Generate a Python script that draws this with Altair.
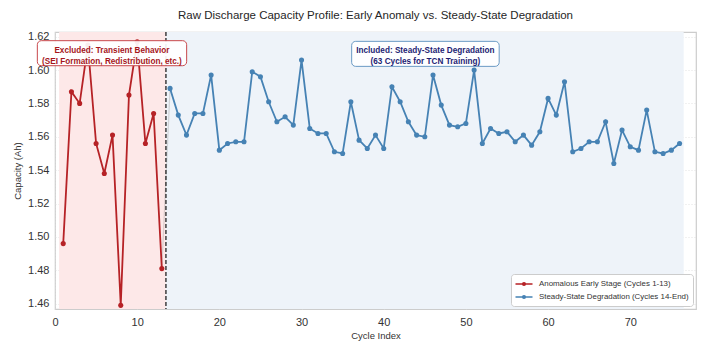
import altair as alt
import pandas as pd

# ---- data ----
early_cycles = list(range(1, 14))
early_capacity = [1.496, 1.587, 1.580, 1.615, 1.556, 1.538, 1.561, 1.459, 1.585, 1.617,
                  1.556, 1.574, 1.481]

steady_cycles = list(range(14, 77))
steady_capacity = [1.589, 1.573, 1.561, 1.574, 1.574, 1.597, 1.552, 1.556, 1.557, 1.557,
                   1.599, 1.596, 1.581, 1.569, 1.572, 1.567, 1.606, 1.565, 1.562, 1.562,
                   1.551, 1.550, 1.581, 1.558, 1.553, 1.561, 1.553, 1.590, 1.581, 1.569,
                   1.561, 1.560, 1.597, 1.579, 1.567, 1.566, 1.568, 1.600, 1.556, 1.565,
                   1.562, 1.563, 1.557, 1.561, 1.555, 1.563, 1.583, 1.573, 1.593, 1.551,
                   1.553, 1.557, 1.557, 1.569, 1.544, 1.564, 1.554, 1.552, 1.576, 1.551,
                   1.550, 1.552, 1.556]

series_names = ["Anomalous Early Stage (Cycles 1-13)", "Steady-State Degradation (Cycles 14-End)"]
series_colors = ["#b62226", "#4682b4"]

span_start = [0.5, 13.5]
span_end = [13.5, 76.5]
span_fill = ["#fde8e8", "#eef3f9"]
split_at = [13.5]

x_ticks = [0, 10, 20, 30, 40, 50, 60, 70]
y_ticks = [1.46, 1.48, 1.50, 1.52, 1.54, 1.56, 1.58, 1.60, 1.62]
x_domain = [0, 78]
y_domain = [1.4568, 1.6228]

ann_text = ["Excluded: Transient Behavior\n(SEI Formation, Redistribution, etc.)",
            "Included: Steady-State Degradation\n(63 Cycles for TCN Training)"]
ann_x = [6.93, 45.07]
ann_y = [1.6113, 1.6112]
ann_x0 = [-2.15, 36.1]
ann_x1 = [16.02, 54.05]
ann_y0 = [1.6026, 1.6022]
ann_y1 = [1.6176, 1.6172]
ann_text_color = ["#a5161c", "#1d1d73"]
ann_border = ["#c8484c", "#6a9ac4"]

# ---- tables ----
df = pd.DataFrame({
    "cycle": early_cycles + steady_cycles,
    "capacity": early_capacity + steady_capacity,
    "series": [series_names[0]] * len(early_cycles) + [series_names[1]] * len(steady_cycles),
})
connector = pd.DataFrame({"cycle": [early_cycles[-1], steady_cycles[0]],
                          "capacity": [early_capacity[-1], steady_capacity[0]]})
spans = pd.DataFrame({"x0": span_start, "x1": span_end, "fill": span_fill})
split = pd.DataFrame({"x": split_at})
ann = pd.DataFrame({"text": ann_text, "x": ann_x, "y": ann_y, "x0": ann_x0, "x1": ann_x1,
                    "y0": ann_y0, "y1": ann_y1, "tc": ann_text_color, "bc": ann_border})

xs = alt.Scale(domain=x_domain, nice=False, zero=False)
ys = alt.Scale(domain=y_domain, nice=False, zero=False)

x_axis = alt.Axis(values=x_ticks, title="Cycle Index", labelPadding=7, titlePadding=3,
                  format="d", labelFlush=False, labelOverlap=False)
y_axis = alt.Axis(values=y_ticks, title="Capacity (Ah)", labelPadding=6, titlePadding=5,
                  format=".2f", labelOverlap=False, labelFlush=False)

span_layer = alt.Chart(spans).mark_rect().encode(
    x=alt.X("x0:Q", scale=xs, axis=x_axis),
    x2="x1:Q",
    fill=alt.Fill("fill:N", scale=None),
)

line_sym = "M-1.1,0L2.3,0M0.34,0A0.26,0.26,0,1,0,0.86,0A0.26,0.26,0,1,0,0.34,0"
color = alt.Color("series:N", scale=alt.Scale(domain=series_names, range=series_colors),
                  legend=alt.Legend(title=None, orient="bottom-right", offset=3,
                                    symbolType=line_sym, symbolSize=100, symbolStrokeWidth=1.6,
                                    labelFontSize=7.9, labelColor="#333333", labelOffset=12,
                                    fillColor="white", strokeColor="#cccccc", cornerRadius=3,
                                    padding=4, rowPadding=2, labelLimit=300))

connector_layer = alt.Chart(connector).mark_line(color="#999999", opacity=0.35, strokeWidth=1.2).encode(
    x=alt.X("cycle:Q", scale=xs, axis=x_axis), y=alt.Y("capacity:Q", scale=ys, axis=y_axis))

lines = alt.Chart(df).mark_line(strokeWidth=1.8).encode(
    x=alt.X("cycle:Q", scale=xs, axis=x_axis),
    y=alt.Y("capacity:Q", scale=ys, axis=y_axis),
    color=color,
    detail="series:N",
)
points = alt.Chart(df).mark_circle(size=26, opacity=1).encode(
    x=alt.X("cycle:Q", scale=xs, axis=x_axis),
    y=alt.Y("capacity:Q", scale=ys, axis=y_axis),
    color=alt.Color("series:N", scale=alt.Scale(domain=series_names, range=series_colors), legend=None),
)

split_rule = alt.Chart(split).mark_rule(color="#222222", strokeDash=[4, 2], strokeWidth=1.3).encode(
    x=alt.X("x:Q", scale=xs, axis=x_axis))

boxes = alt.Chart(ann).mark_rect(fill="white", fillOpacity=0.92, cornerRadius=4, strokeWidth=1).encode(
    x=alt.X("x0:Q", scale=xs, axis=x_axis), x2="x1:Q",
    y=alt.Y("y0:Q", scale=ys, axis=y_axis), y2="y1:Q",
    stroke=alt.Stroke("bc:N", scale=None),
)
texts = alt.Chart(ann).mark_text(fontSize=8.2, fontWeight="bold", align="center", baseline="middle",
                                 lineBreak="\n", lineHeight=10.5, font="Liberation Sans").encode(
    x=alt.X("x:Q", scale=xs, axis=x_axis), y=alt.Y("y:Q", scale=ys, axis=y_axis),
    text="text:N",
    color=alt.Color("tc:N", scale=None),
)

chart = alt.layer(span_layer, connector_layer, lines, points, split_rule, boxes, texts).properties(
    width=641, height=277,
    title=alt.Title("Raw Discharge Capacity Profile: Early Anomaly vs. Steady-State Degradation",
                    fontSize=11.5, fontWeight="normal", color="#262626", offset=9,
                    font="Liberation Sans", anchor="middle"),
    autosize=alt.AutoSizeParams(type="none"),
    padding={"left": 55, "top": 32, "right": 8, "bottom": 32},
).configure_view(
    stroke="#cccccc", strokeWidth=1.2
).configure_axis(
    domain=False, ticks=False, labelFont="Liberation Sans", titleFont="Liberation Sans",
    labelFontSize=11, labelColor="#333333", titleFontSize=9.5, titleColor="#333333",
    titleFontWeight="normal", gridColor="#dcdcdc", gridDash=[1, 2], gridWidth=0.8,
    labelOverlap=False,
).configure_legend(
    labelFont="Liberation Sans"
)

chart.save("out.html", embed_options={"renderer": "svg", "actions": False})
